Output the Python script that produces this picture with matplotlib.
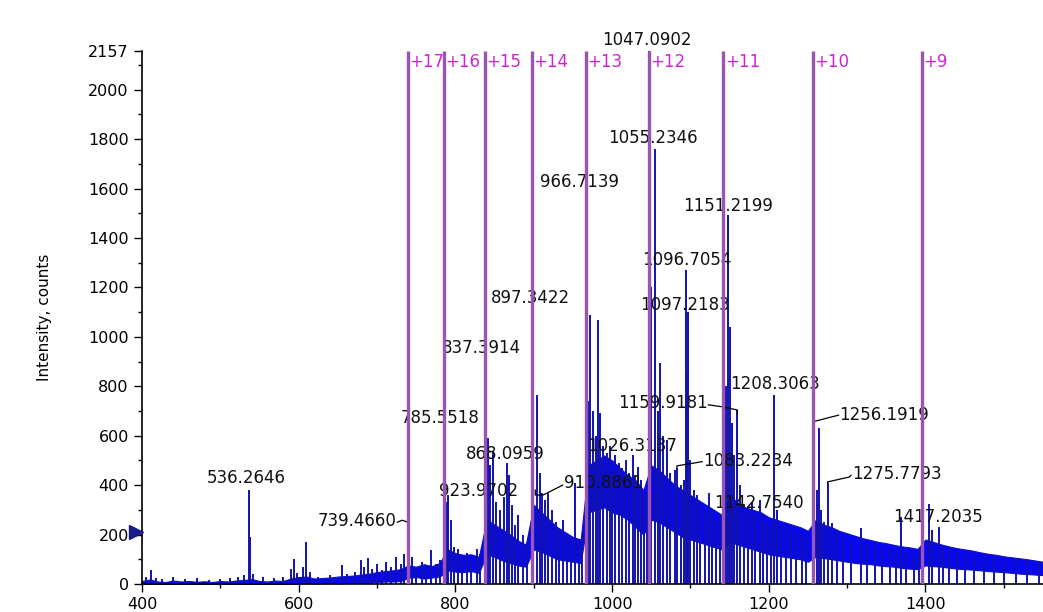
import matplotlib
matplotlib.use('Agg')
import matplotlib.pyplot as plt
import matplotlib.transforms as mtransforms
from matplotlib.ticker import MultipleLocator

# noisy baseline band of the spectrum (m/z grid every 10)
band_mz = list(range(400, 1551, 10))
band_lo = [0, 0, 0, 0, 0, 0, 0, 0, 0, 0, 0, 0, 0,
           0, 0, 0, 0, 0, 0, 0,
           2, 3, 2, 3, 4, 3, 4, 5, 5, 6,
           8, 10, 10, 12,
           25, 28, 22, 26, 30,
           55, 50, 48, 52, 45,
           120, 110, 95, 85, 75, 70,
           140, 130, 115, 100, 95, 90, 85,
           290, 300, 310, 290, 280, 260, 230, 200,
           260, 250, 230, 210, 190, 180, 170, 160, 150, 140,
           170, 160, 150, 140, 130, 120, 115, 110, 105, 100, 90,
           110, 105, 100, 95, 90, 85, 82, 80, 75, 72, 70, 65, 62, 60,
           75, 72, 70, 66, 62, 60, 58, 55, 52, 50, 48, 45, 42, 40, 38, 36]
band_hi = [12, 18, 10, 8, 14, 10, 12, 9, 11, 8, 12, 10, 14,
           16, 20, 12, 10, 14, 12, 22,
           28, 30, 22, 24, 26, 30, 32, 34, 38, 42,
           48, 52, 55, 60,
           75, 70, 80, 72, 85,
           140, 125, 118, 120, 110,
           260, 240, 220, 200, 175, 160,
           320, 290, 260, 230, 210, 190, 180,
           480, 500, 520, 500, 470, 440, 420, 380,
           480, 460, 430, 400, 380, 360, 340, 320, 300, 280,
           360, 330, 310, 300, 290, 270, 260, 250, 240, 230, 215,
           260, 240, 230, 215, 205, 195, 185, 178, 170, 165, 158, 152, 148, 142,
           180, 170, 160, 152, 145, 140, 135, 128, 122, 118, 112, 108, 104, 100, 95, 90]

# centroid sticks (m/z, intensity)
peak_mz = [405, 412, 418, 425, 440, 455, 470, 485, 500, 512, 522, 530,
           536.26, 538.3, 542, 555, 568, 580, 590, 594, 598, 606, 610, 615,
           625, 640, 655, 662, 672, 680, 684, 688, 694, 700, 706, 712, 718,
           724, 730, 735, 739.47,
           745, 750, 758, 763, 769, 775, 781,
           785.55, 789, 791, 794, 798, 803, 808, 815, 820, 827, 832,
           838, 841.6, 844, 848, 852, 857, 862, 866, 868.1, 872, 876, 880, 886, 891,
           897.3, 899, 904, 908, 910.9, 914, 918, 923.97, 928, 932, 937, 943,
           948, 952.6, 958, 962,
           966.7, 969, 972, 976, 979, 982, 985, 989, 993, 997, 1000, 1004, 1009,
           1013, 1018, 1021, 1026.3, 1029, 1033, 1037, 1041, 1044,
           1047.09, 1050, 1055.23, 1058, 1061, 1065, 1070, 1074, 1080, 1083.2,
           1088, 1092, 1094.5, 1096, 1097.2, 1100, 1105, 1108, 1112, 1118, 1124,
           1128, 1133, 1138,
           1142.75, 1146, 1148, 1150.5, 1153, 1156, 1159.9, 1163, 1168, 1173,
           1178, 1183, 1188.5, 1193, 1198, 1203, 1206.5, 1210, 1216, 1222, 1228,
           1235, 1242, 1248,
           1256.2, 1258, 1261, 1263.7, 1267, 1270, 1275.8, 1281, 1287, 1295, 1305,
           1318, 1325, 1335, 1345, 1355, 1362, 1369, 1375, 1385, 1392,
           1396, 1404, 1408, 1417.2, 1422, 1430, 1440, 1450, 1462, 1475, 1488,
           1500, 1515, 1530, 1545]
peak_int = [30, 55, 25, 20, 28, 22, 25, 18, 20, 25, 30, 35,
            380, 190, 40, 30, 25, 28, 60, 100, 45, 70, 170, 50,
            30, 35, 75, 40, 50, 95, 70, 105, 60, 80, 55, 90, 70,
            110, 80, 120, 230,
            110, 70, 90, 75, 138, 80, 95,
            300, 330, 360, 260, 150, 140, 110, 126, 100, 140, 120,
            430, 590, 480, 540, 330, 300, 350, 490, 440, 320, 240, 280, 200, 170,
            773, 600, 765, 450, 370, 340, 368, 300, 250, 220, 260, 200,
            190, 409, 180, 200,
            620, 740, 1090, 700, 600, 1070, 690, 560, 530, 560, 462, 520, 490,
            470, 502, 450, 520, 440, 474, 420, 380, 360,
            2157, 1200, 1760, 700, 895, 600, 583, 450, 462, 470,
            400, 420, 1271, 854, 1100, 500, 380, 360, 328, 300, 368,
            290, 260, 280,
            400, 800, 1494, 1040, 650, 520, 704, 400, 320, 290,
            330, 280, 340, 260, 250, 240, 765, 300, 240, 230, 220,
            210, 200, 190,
            650, 433, 380, 631, 300, 250, 410, 246, 210, 190, 170,
            227, 160, 150, 145, 140, 130, 272, 130, 120, 140,
            200, 324, 220, 231, 150, 140, 135, 125, 120, 115, 110,
            105, 100, 95, 90]

# charge-state markers
charge_mz = [739.4, 785.6, 837.9, 897.6, 966.6, 1047.1, 1142.2, 1256.3, 1395.8]
charge_lab = ['+17', '+16', '+15', '+14', '+13', '+12', '+11', '+10', '+9']

# peak labels: text, x, y, alignment
lab_text = ['536.2646', '739.4660', '785.5518', '837.3914', '868.0959', '897.3422',
            '923.9702', '910.8861', '966.7139', '1026.3137', '1047.0902', '1055.2346',
            '1096.7054', '1097.2183', '1151.2199', '1159.9181', '1083.2234',
            '1142.7540', '1208.3063', '1256.1919', '1275.7793', '1417.2035']
lab_x = [533, 725, 780.6, 833, 863.6, 895.5, 830, 938.8, 958, 1026, 1045, 1051.6,
         1096, 1093.5, 1148, 1122.5, 1115.9, 1188, 1208, 1290, 1306, 1416.6]
lab_y = [430, 255, 673, 953, 527, 1156, 377, 410, 1627, 560, 2203, 1805,
         1310, 1128, 1529, 734, 499, 329, 811, 685, 446, 272]
lab_ha = ['center', 'right', 'center', 'center', 'center', 'center', 'center', 'left',
          'center', 'center', 'center', 'center', 'center', 'center', 'center',
          'right', 'left', 'center', 'center', 'left', 'left', 'center']

# leader lines from label to peak
leaders = [
    ([726, 732, 739.4], [250, 258, 250]),
    ([902, 902, 912, 937], [380, 360, 360, 400]),
    ([1123, 1140.8, 1160, 1160], [725, 717, 704, 690]),
    ([1082.8, 1082.8, 1105.7, 1115], [470, 478, 490, 495]),
    ([1256, 1280, 1289], [656, 676, 683]),
    ([1275, 1275, 1303, 1305], [410, 413, 433, 440]),
]

fig = plt.figure(figsize=(10.43, 6.12), dpi=100)
ax = fig.add_axes([0.1361, 0.0458, 0.8639, 0.8709])

blue = '#0808F0'
ax.fill_between(band_mz, band_lo, band_hi, color=blue, lw=0.8, ec='#1010B8', zorder=2)
ax.vlines(peak_mz, 0, peak_int, color='#1212B0', lw=1.4, zorder=2)

ax.vlines(charge_mz, 0, 2157, color='#9A55B2', lw=2.4, zorder=5)
for mz, lab in zip(charge_mz, charge_lab):
    ax.text(mz + 2, 2113, lab, color='#D024D0', fontsize=12, ha='left', va='center',
            zorder=6, clip_on=False)

for t, x, y, ha in zip(lab_text, lab_x, lab_y, lab_ha):
    ax.text(x, y, t, fontsize=12, ha=ha, va='center', color='#111111',
            zorder=4, clip_on=False)
for xs, ys in leaders:
    ax.plot(xs, ys, color='black', lw=0.9, zorder=4)

# little marker on the y axis
trans = mtransforms.blended_transform_factory(ax.transAxes, ax.transData)
ax.plot([-0.007], [212], marker='>', ms=10, color='#1A1A8A', transform=trans,
        clip_on=False, zorder=6)

ax.set_xlim(400, 1550)
ax.set_ylim(0, 2157)
ax.set_yticks([0, 200, 400, 600, 800, 1000, 1200, 1400, 1600, 1800, 2000, 2157])
ax.set_xticks([400, 600, 800, 1000, 1200, 1400])
ax.xaxis.set_minor_locator(MultipleLocator(100))
ax.yaxis.set_minor_locator(MultipleLocator(100))
ax.tick_params(which='major', length=6, width=1, labelsize=11.5, direction='out')
ax.tick_params(which='minor', length=3, width=1, direction='out')
ax.spines['top'].set_visible(False)
ax.spines['right'].set_visible(False)
ax.spines['left'].set_linewidth(1.2)
ax.spines['bottom'].set_linewidth(1.2)
ax.set_ylabel('Intensity, counts', fontsize=11)
ax.yaxis.set_label_coords(-0.1, 0.5)

fig.savefig('out.png', dpi=100)
